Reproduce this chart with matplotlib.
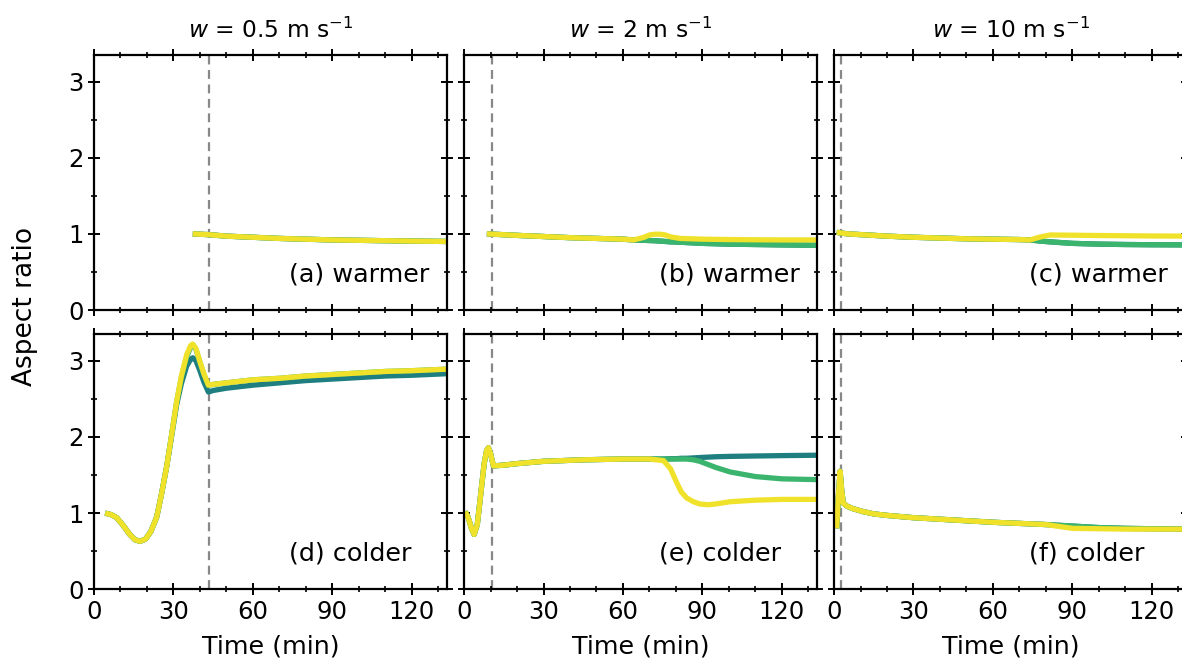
import matplotlib.pyplot as plt
from matplotlib.ticker import MultipleLocator

# updraft speeds (columns) and the time where the dashed marker sits
titles = [r"$w$ = 0.5 m s$^{-1}$", r"$w$ = 2 m s$^{-1}$", r"$w$ = 10 m s$^{-1}$"]
marker_times = [43.3, 10.7, 2.6]
panel_labels = [["(a) warmer", "(b) warmer", "(c) warmer"],
                ["(d) colder", "(e) colder", "(f) colder"]]

colours = ["#1f7f80", "#3bb56e", "#f0e22a"]

# (a) warmer, w = 0.5
a_t = [37.3, 43, 50, 60, 70, 80, 90, 100, 110, 120, 133]
a_teal = [1.0, 0.99, 0.97, 0.955, 0.94, 0.93, 0.92, 0.915, 0.91, 0.905, 0.9]
a_green = [1.0, 0.99, 0.97, 0.955, 0.94, 0.93, 0.92, 0.915, 0.91, 0.905, 0.9]
a_yellow = [1.0, 0.99, 0.97, 0.955, 0.94, 0.93, 0.92, 0.915, 0.91, 0.905, 0.9]

# (b) warmer, w = 2
b_t = [8.6, 20, 30, 40, 50, 60, 64, 68, 70, 72, 74, 76, 78, 81.6, 90, 100,
       110, 120, 133]
b_teal = [1.0, 0.98, 0.965, 0.95, 0.94, 0.93, 0.92, 0.915, 0.912, 0.91,
          0.905, 0.9, 0.895, 0.89, 0.875, 0.865, 0.86, 0.855, 0.85]
b_green = [1.0, 0.98, 0.965, 0.95, 0.94, 0.93, 0.92, 0.915, 0.912, 0.91,
           0.905, 0.9, 0.895, 0.89, 0.875, 0.865, 0.86, 0.855, 0.85]
b_yellow = [1.0, 0.98, 0.965, 0.95, 0.94, 0.93, 0.92, 0.955, 0.985, 0.995,
            0.995, 0.985, 0.96, 0.94, 0.93, 0.925, 0.922, 0.92, 0.92]

# (c) warmer, w = 10
c_t = [1.0, 5, 10, 20, 30, 40, 50, 60, 70, 74, 78, 81.6, 90, 100, 110, 120,
       133]
c_teal = [1.02, 1.0, 0.99, 0.97, 0.955, 0.945, 0.935, 0.93, 0.925, 0.92,
          0.905, 0.895, 0.875, 0.865, 0.86, 0.857, 0.855]
c_green = [1.02, 1.0, 0.99, 0.97, 0.955, 0.945, 0.935, 0.93, 0.925, 0.92,
           0.905, 0.895, 0.875, 0.865, 0.86, 0.857, 0.855]
c_yellow = [1.02, 1.0, 0.99, 0.97, 0.955, 0.945, 0.935, 0.93, 0.925, 0.92,
            0.96, 0.985, 0.982, 0.978, 0.975, 0.972, 0.97]

# (d) colder, w = 0.5
d_t = [4.2, 6.5, 8.6, 11, 13.5, 15.5, 17.4, 19.5, 21.5, 23.7, 25.5, 27.5,
       29.5, 31.2, 33, 35, 36.5, 37.3, 38.5, 40, 41.5, 43.2, 45, 50, 60, 70,
       80, 90, 100, 110, 120, 133]
d_teal = [1.0, 0.98, 0.94, 0.84, 0.72, 0.65, 0.63, 0.66, 0.76, 0.95, 1.25,
          1.62, 2.05, 2.42, 2.7, 2.93, 3.02, 3.04, 3.0, 2.87, 2.72, 2.59,
          2.61, 2.64, 2.68, 2.71, 2.74, 2.76, 2.78, 2.8, 2.81, 2.83]
d_green = [1.0, 0.98, 0.94, 0.84, 0.72, 0.65, 0.63, 0.66, 0.76, 0.95, 1.25,
           1.62, 2.07, 2.46, 2.78, 3.05, 3.18, 3.21, 3.15, 2.98, 2.82, 2.68,
           2.69, 2.71, 2.75, 2.77, 2.8, 2.82, 2.84, 2.86, 2.87, 2.89]
d_yellow = [1.0, 0.98, 0.94, 0.84, 0.72, 0.65, 0.63, 0.66, 0.76, 0.95, 1.25,
            1.62, 2.07, 2.46, 2.8, 3.08, 3.2, 3.22, 3.16, 2.99, 2.83, 2.68,
            2.69, 2.71, 2.75, 2.77, 2.8, 2.82, 2.84, 2.86, 2.87, 2.89]

# (e) colder, w = 2
e_t = [0.4, 1.5, 2.8, 3.8, 5.0, 6.3, 7.6, 8.5, 9.2, 10.0, 11.1, 15, 20, 30,
       45, 60, 70, 75.3, 78, 80.3, 82, 84, 86.6, 89, 92, 95, 100.5, 110, 120,
       133]
e_teal = [1.02, 0.95, 0.8, 0.72, 0.85, 1.25, 1.65, 1.82, 1.86, 1.78, 1.62,
          1.63, 1.65, 1.68, 1.7, 1.71, 1.71, 1.71, 1.715, 1.715, 1.72, 1.72,
          1.725, 1.73, 1.735, 1.74, 1.745, 1.75, 1.755, 1.76]
e_green = [1.02, 0.95, 0.8, 0.72, 0.85, 1.25, 1.65, 1.82, 1.86, 1.78, 1.62,
           1.63, 1.65, 1.68, 1.7, 1.71, 1.71, 1.71, 1.71, 1.71, 1.71, 1.71,
           1.7, 1.68, 1.64, 1.6, 1.54, 1.48, 1.45, 1.44]
e_yellow = [1.02, 0.95, 0.8, 0.72, 0.85, 1.25, 1.65, 1.82, 1.86, 1.78, 1.62,
            1.63, 1.65, 1.68, 1.7, 1.71, 1.71, 1.69, 1.58, 1.4, 1.28, 1.2,
            1.15, 1.12, 1.11, 1.12, 1.15, 1.17, 1.18, 1.18]

# (f) colder, w = 10
f_t = [1.0, 1.6, 2.3, 2.9, 3.5, 5, 7, 11, 15, 20, 30, 40, 50, 60, 70, 80,
       85, 90, 100, 110, 120, 133]
f_teal = [0.8, 1.2, 1.55, 1.3, 1.13, 1.09, 1.06, 1.02, 0.99, 0.97, 0.94,
          0.92, 0.9, 0.88, 0.865, 0.85, 0.84, 0.83, 0.81, 0.8, 0.795, 0.79]
f_green = [0.8, 1.2, 1.55, 1.3, 1.13, 1.09, 1.06, 1.02, 0.99, 0.97, 0.94,
           0.92, 0.9, 0.88, 0.865, 0.85, 0.84, 0.83, 0.81, 0.8, 0.795, 0.79]
f_yellow = [0.8, 1.2, 1.55, 1.3, 1.13, 1.09, 1.06, 1.02, 0.99, 0.97, 0.94,
            0.92, 0.9, 0.88, 0.865, 0.85, 0.825, 0.8, 0.795, 0.79, 0.79,
            0.79]

panels = [
    [(a_t, [a_teal, a_green, a_yellow]), (b_t, [b_teal, b_green, b_yellow]),
     (c_t, [c_teal, c_green, c_yellow])],
    [(d_t, [d_teal, d_green, d_yellow]), (e_t, [e_teal, e_green, e_yellow]),
     (f_t, [f_teal, f_green, f_yellow])],
]

plt.rcParams["font.family"] = "DejaVu Sans"
plt.rcParams["mathtext.fontset"] = "dejavusans"

fig = plt.figure(figsize=(11.82, 6.61), dpi=100)

lefts = [0.0795, 0.3926, 0.7056]
bottoms = [0.531, 0.1085]
width = 0.2987
height = 0.386

for row in range(2):
    for col in range(3):
        ax = fig.add_axes([lefts[col], bottoms[row], width, height])
        t, series = panels[row][col]
        for values, colour in zip(series, colours):
            ax.plot(t, values, color=colour, lw=3.8, solid_capstyle="butt",
                    solid_joinstyle="round")
        ax.axvline(marker_times[col], color="#888888", lw=1.6,
                   ls=(0, (4, 2.5)), zorder=0)
        ax.set_xlim(0, 133.3)
        ax.set_ylim(0, 3.35)
        ax.xaxis.set_major_locator(MultipleLocator(30))
        ax.xaxis.set_minor_locator(MultipleLocator(10))
        ax.yaxis.set_major_locator(MultipleLocator(1))
        ax.yaxis.set_minor_locator(MultipleLocator(0.5))
        ax.tick_params(which="both", direction="inout", top=True, right=True,
                       labelsize=17.5)
        ax.tick_params(which="major", length=8, width=1.4)
        ax.tick_params(which="minor", length=4.5, width=1.2)
        for spine in ax.spines.values():
            spine.set_linewidth(1.6)
        if row == 0:
            ax.set_title(titles[col], fontsize=16.8, pad=12)
            ax.tick_params(labelbottom=False)
        else:
            ax.set_xlabel("Time (min)", fontsize=18.3, labelpad=8)
        if col > 0:
            ax.tick_params(labelleft=False)
        ax.text(0.552, 0.14, panel_labels[row][col], transform=ax.transAxes,
                ha="left", va="center", fontsize=18.3)

fig.text(0.021, 0.536, "Aspect ratio", rotation=90, ha="center",
         va="center", fontsize=19)

fig.savefig("out.png", dpi=100)
